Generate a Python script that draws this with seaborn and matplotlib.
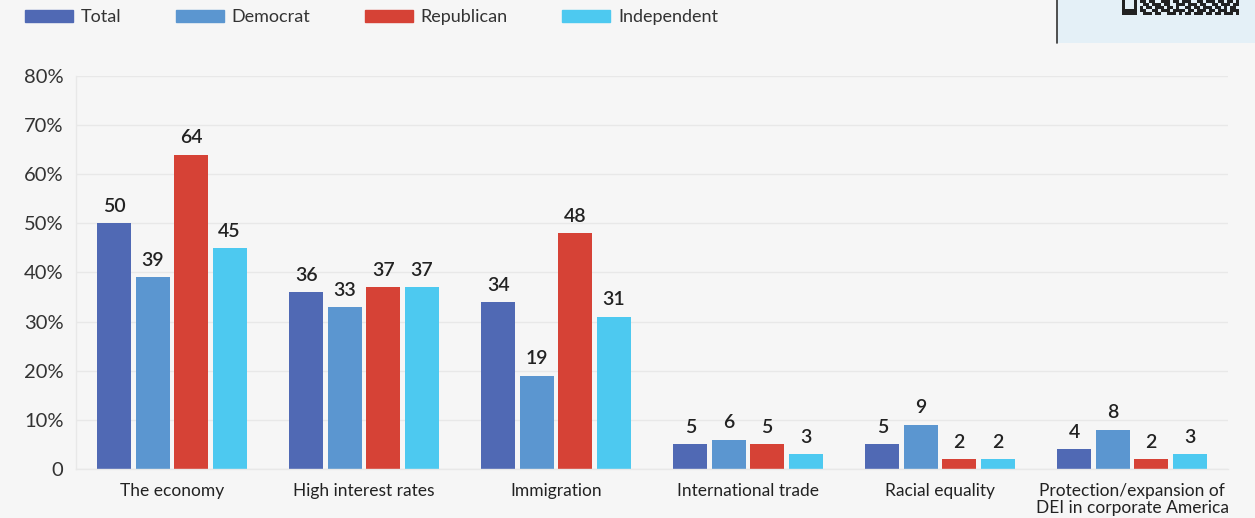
import matplotlib
matplotlib.use("Agg")
import matplotlib.pyplot as plt
import matplotlib.patches as mpatches
import numpy as np
import pandas as pd
import seaborn as sns

categories = ["The economy", "High interest rates", "Immigration",
              "International trade", "Racial equality",
              "Protection/expansion of\nDEI in corporate America"]
groups = ["Total", "Democrat", "Republican", "Independent"]
total = [50, 36, 34, 5, 5, 4]
democrat = [39, 33, 19, 6, 9, 8]
republican = [64, 37, 48, 5, 2, 2]
independent = [45, 37, 31, 3, 2, 3]
y_ticks = [0, 10, 20, 30, 40, 50, 60, 70, 80]
y_tick_labels = ["0", "10%", "20%", "30%", "40%", "50%", "60%", "70%", "80%"]

colors = ["#5069b4", "#5b96d0", "#d64236", "#4dc9f0"]
bg = "#f6f6f6"

# bottom of a QR code peeking out of the top right panel (decoration)
qr_rows = [
    "100010110110011101101110011011101101101",
    "100010011011101100111011101100110111011",
    "100010101101110110100110110111011010110",
    "111110110011011101111011011101101110111",
    "111110011101100111010110111011011011101",
]

df = pd.DataFrame({
    "category": categories * 4,
    "group": [g for g in groups for _ in categories],
    "value": total + democrat + republican + independent,
})

sns.set_theme(style="white")
plt.rcParams["font.family"] = ["Lato", "DejaVu Sans"]

fig = plt.figure(figsize=(12.55, 5.18), dpi=100, facecolor=bg)
ax = fig.add_axes([76 / 1255, 1 - 469 / 518, 1152 / 1255, 393 / 518])
ax.set_facecolor(bg)

sns.barplot(data=df, x="category", y="value", hue="group",
            hue_order=groups, order=categories, palette=colors,
            width=0.8, gap=0.11, saturation=1, linewidth=0,
            legend=False, ax=ax)

for cont in ax.containers:
    ax.bar_label(cont, padding=6, fontsize=14, fontweight="semibold",
                 color="#222222")

ax.set_ylim(0, 80)
ax.set_xlim(-0.5, len(categories) - 0.5)
ax.set_yticks(y_ticks)
ax.set_yticklabels(y_tick_labels, fontsize=14.5, color="#333333")
ax.tick_params(axis="x", labelsize=12.5, colors="#222222", length=0, pad=10)
ax.tick_params(axis="y", length=0, pad=9)
for lbl in ax.get_xticklabels():
    lbl.set_linespacing(1.05)
ax.yaxis.grid(True, color="#e8e8e8", linewidth=1)
ax.set_axisbelow(True)
ax.set_xlabel("")
ax.set_ylabel("")
for side in ["top", "right"]:
    ax.spines[side].set_visible(False)
for side in ["left", "bottom"]:
    ax.spines[side].set_color("#e8e8e8")
    ax.spines[side].set_linewidth(1)

handles = [mpatches.Patch(color=c, label=g) for c, g in zip(colors, groups)]
fig.legend(handles=handles, loc="center left", bbox_to_anchor=(25 / 1255, 1 - 17 / 518),
           ncol=4, frameon=False, fontsize=13, handlelength=2.65, handleheight=0.66,
           handletextpad=0.45, columnspacing=3.0, labelcolor="#333333",
           borderpad=0, borderaxespad=0)

# panel in the top right corner
fig.patches.append(mpatches.Rectangle((1057 / 1255, 1 - 43 / 518), 200 / 1255, 43 / 518,
                                      transform=fig.transFigure, facecolor="#e4f0f7",
                                      edgecolor="none", zorder=-2))
fig.lines.append(plt.Line2D([1057 / 1255, 1057 / 1255], [1 - 43 / 518, 1],
                            transform=fig.transFigure, color="#333333", linewidth=1.2,
                            zorder=-1))
qr = np.array([[int(c) for c in r] for r in qr_rows])
qax = fig.add_axes([1122 / 1255, 1 - 15 / 518, 117 / 1255, 15 / 518])
qax.set_zorder(5)
qax.imshow(qr, cmap=matplotlib.colors.ListedColormap(["#e4f0f7", "#222222"]),
           aspect="auto", interpolation="nearest")
qax.axis("off")

fig.savefig("out.png", dpi=100, facecolor=bg)
